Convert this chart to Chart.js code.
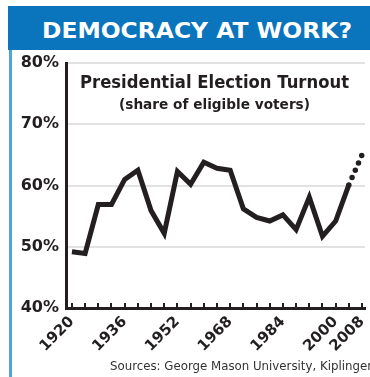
<!DOCTYPE html>
<html>
<head>
<meta charset="utf-8">
<script src="https://cdn.jsdelivr.net/npm/chart.js@4"></script>
<style>
  html, body { margin: 0; padding: 0; background: #fff; }
  body { width: 370px; height: 377px; overflow: hidden; position: relative; font-family: "DejaVu Sans", sans-serif; }
  #frame { position: absolute; left: 9px; top: 6px; width: 3px; height: 371px; background: #4ea3da; }
  #banner { position: absolute; left: 8px; top: 6px; width: 362px; height: 44px; background: #0a75bc; }
  .fit { position: absolute; white-space: nowrap; transform-origin: 0 50%; line-height: 1; }
  #head { color: #fff; font-weight: bold; font-size: 21px; }
  #title { color: #231f20; font-weight: bold; font-size: 17px; }
  #sub { color: #231f20; font-weight: bold; font-size: 14px; }
  #src { color: #333; font-size: 13px; }
  #wrap { position: absolute; left: 0; top: 0; width: 370px; height: 377px; }
</style>
</head>
<body>
<div id="wrap"><canvas id="chart"></canvas></div>
<div id="frame"></div>
<div id="banner"></div>
<div class="fit" id="head">DEMOCRACY AT WORK?</div>
<div class="fit" id="title">Presidential Election Turnout</div>
<div class="fit" id="sub">(share of eligible voters)</div>
<div class="fit" id="src">Sources: George Mason University, Kiplinger</div>
<script>
const years = [1920, 1924, 1928, 1932, 1936, 1940, 1944, 1948, 1952, 1956, 1960,
  1964, 1968, 1972, 1976, 1980, 1984, 1988, 1992, 1996, 2000, 2004];
const turnout = [49.2, 48.9, 56.9, 56.9, 61.0, 62.5, 55.9, 52.2, 62.3, 60.2, 63.8,
  62.8, 62.5, 56.2, 54.8, 54.2, 55.2, 52.8, 58.1, 51.7, 54.2, 60.1];
const projYears = [2004, 2008];
const projTurnout = [60.1, 65.0];
const xTickLabels = [1920, 1936, 1952, 1968, 1984, 2000, 2008];
const yTickLabels = [40, 50, 60, 70, 80];

// place a text block: left or centre x, centre y, stretched to a width
function place(id, x, cy, w, centre) {
  const el = document.getElementById(id);
  const r = el.getBoundingClientRect();
  const s = w / r.width;
  el.style.left = (centre ? x - w / 2 : x) + 'px';
  el.style.top = (cy - r.height / 2) + 'px';
  el.style.transform = 'scaleX(' + s + ')';
}
place('head', 42, 31, 310, false);
place('title', 214.5, 82, 269, true);
place('sub', 214.5, 104, 191, true);
place('src', 110, 365, 262, false);

const ink = '#231f20';

const innerTicks = {
  id: 'innerTicks',
  afterDraw(chart) {
    const {ctx, chartArea, scales} = chart;
    ctx.save();
    ctx.strokeStyle = ink;
    ctx.lineWidth = 2;
    for (let y = 1920; y <= 2008; y += 4) {
      const px = Math.round(scales.x.getPixelForValue(y));
      ctx.beginPath();
      ctx.moveTo(px, chartArea.bottom);
      ctx.lineTo(px, chartArea.bottom - 5);
      ctx.stroke();
    }
    ctx.restore();
  }
};

new Chart(document.getElementById('chart'), {
  type: 'line',
  data: {
    datasets: [{
      data: years.map((y, i) => ({x: y, y: turnout[i]})),
      borderColor: ink,
      borderWidth: 5,
      borderJoinStyle: 'miter',
      pointRadius: 0,
      tension: 0
    }, {
      data: projYears.map((y, i) => ({x: y, y: projTurnout[i]})),
      borderColor: ink,
      borderWidth: 5.5,
      borderCapStyle: 'round',
      borderDash: [0, 8],
      pointRadius: 0,
      tension: 0
    }]
  },
  options: {
    responsive: true,
    maintainAspectRatio: false,
    animation: false,
    layout: { padding: { top: 63, right: 5, left: 0, bottom: 0 } },
    plugins: { legend: { display: false }, tooltip: { enabled: false } },
    scales: {
      x: {
        type: 'linear',
        min: 1918.2,
        max: 2008.9,
        afterBuildTicks: s => { s.ticks = xTickLabels.map(v => ({value: v})); },
        afterFit: s => { s.height = 69; s.paddingLeft = 0; s.paddingRight = 0; },
        grid: { display: false, drawTicks: false },
        border: { display: true, color: ink, width: 3 },
        ticks: {
          minRotation: 45, maxRotation: 45, padding: 5, autoSkip: false,
          color: ink, font: { family: 'DejaVu Sans', weight: 'bold', size: 15 },
          callback: v => String(v)
        }
      },
      y: {
        min: 40,
        max: 80,
        afterBuildTicks: s => { s.ticks = yTickLabels.map(v => ({value: v})); },
        afterFit: s => { s.width = 66; },
        grid: { color: '#e2e2e2', lineWidth: 2, drawTicks: false },
        border: { display: true, color: ink, width: 3 },
        ticks: {
          padding: 7, color: ink,
          font: { family: 'DejaVu Sans', weight: 'bold', size: 16 },
          callback: v => v + '%'
        }
      }
    }
  },
  plugins: [innerTicks]
});
</script>
</body>
</html>
